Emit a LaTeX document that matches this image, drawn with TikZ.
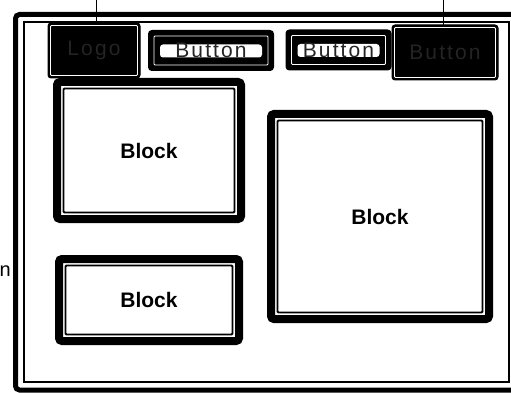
\documentclass[tikz,border=0pt]{standalone}
\usepackage{fontspec}
\setmainfont{Liberation Sans}
\usepackage{tikz}
\usetikzlibrary{positioning, calc}
\tikzset{
  frame/.style={draw, line width=5pt, rounded corners=4pt, minimum width=501.5pt,
                minimum height=375.5pt, inner sep=0pt, outer sep=0pt},
  blk/.style={draw, line width=8pt, rounded corners=3pt, fill=white, inner sep=0pt, outer sep=0pt,
              font=\fontsize{21}{24}\selectfont\bfseries},
  tag/.style={draw, fill=black, line width=1pt, rounded corners=3pt, inner sep=0pt, outer sep=0pt,
              text=black!86, font=\fontsize{21}{24}\selectfont\addfontfeatures{LetterSpace=10}},
  btn/.style={tag, minimum height=39pt, line width=2pt,
              path picture={\fill[white] ([xshift=11pt, yshift=-7pt]path picture bounding box.west)
                                 rectangle ([xshift=-11pt, yshift=6pt]path picture bounding box.east);}},
  lead/.style={line width=0.8pt},
}

\begin{document}
\begin{tikzpicture}[x=1pt, y=-1pt]
  \useasboundingbox (0,0) rectangle (511,393);
  \clip (0,0) rectangle (511,393);

  % --- page frame ---
  \node[frame] (page) at (266.25,202.25) {};

  % --- header row ---
  \node[tag, minimum width=92pt, minimum height=55pt] (logo) at (94,50.5) {Logo};
  \node[btn, minimum width=124pt] (btnA) at (211,50.5) {Button};
  \node[btn, minimum width=104pt] (btnB) at (338.5,50) {Button};
  \node[tag, minimum width=106pt, minimum height=55pt] (btnC) at (445,52.5) {Button};

  % --- content blocks ---
  \node[blk, minimum width=184pt, minimum height=137pt] (blockA) at (149,150.5) {Block};
  \node[blk, minimum width=180pt, minimum height=82pt] (blockB) at (149,300) {Block};
  \node[blk, minimum width=218pt, minimum height=205pt] (blockC) at (380,216.5) {Block};

  % --- inner rims ---
  \draw[line width=2pt] ([shift={(8pt,8pt)}]page.south west) rectangle ([shift={(-8pt,-8pt)}]page.north east);
  \foreach \n/\c/\d/\w in {blockA/black/6.5/1.8, blockB/black/6.5/1.8, blockC/black/6.5/1.8,
                           btnA/white/5/0.8, btnB/white/5/0.8, logo/white/2.5/0.8, btnC/white/2.5/0.8}
    \draw[\c, line width=\w pt, rounded corners=1pt]
      ([shift={(\d pt,\d pt)}]\n.south west) rectangle ([shift={(-\d pt,-\d pt)}]\n.north east);

  % --- callouts from above ---
  \coordinate (logoTag) at (96,-2);
  \coordinate (btnTag) at (443,-2);
  \draw[lead] (logoTag) -- (logoTag |- logo.north);
  \draw[lead] (btnTag) -- (btnTag |- btnC.north);

  % --- side label ---
  \node[font=\fontsize{20}{24}\selectfont, anchor=east, inner sep=0pt] (side) at (11,271) {n};

\end{tikzpicture}
\end{document}
